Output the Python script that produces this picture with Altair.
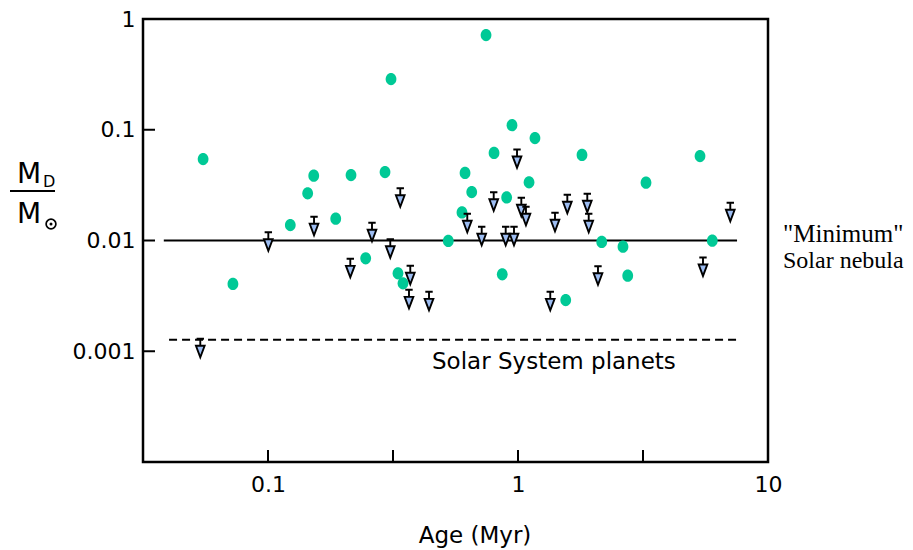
import altair as alt
import pandas as pd

# Disc masses (in solar masses) versus stellar age (Myr)
dot_age = [0.0550, 0.0724, 0.1228, 0.1441, 0.1524, 0.1866, 0.2148, 0.2938, 0.3105, 0.2459,
           0.3311, 0.3467, 0.5263, 0.597, 0.653, 0.614, 0.802, 0.745, 0.865, 0.901,
           0.946, 1.107, 1.169, 1.552, 1.803, 2.162, 2.630, 2.747, 3.251, 5.346, 5.986]
dot_mass = [0.0544, 0.00405, 0.0138, 0.0267, 0.0385, 0.01573, 0.0390, 0.0415, 0.287, 0.00691,
            0.00506, 0.00411, 0.0099, 0.0179, 0.0274, 0.0407, 0.0617, 0.717, 0.00495, 0.0245,
            0.110, 0.0335, 0.0842, 0.0029, 0.0592, 0.0097, 0.00879, 0.00481, 0.0333, 0.0579, 0.00996]

# Upper limits
lim_age = [0.1003, 0.1528, 0.2134, 0.3381, 0.2606, 0.3084, 0.3708, 0.3664, 0.4406, 0.6268,
           0.7158, 0.7995, 0.8929, 0.9638, 1.031, 1.076, 1.406, 1.346, 0.991, 1.575,
           1.893, 1.918, 2.089, 5.495, 7.066, 0.0536]
lim_mass = [0.0098, 0.01352, 0.00564, 0.02444, 0.01193, 0.00847, 0.00488, 0.00296, 0.00284, 0.01439,
            0.01098, 0.02250, 0.01098, 0.01098, 0.02007, 0.01664, 0.01469, 0.00284, 0.0548, 0.02136,
            0.02181, 0.01439, 0.00483, 0.0058, 0.01808, 0.00107]

# Reference levels
nebula_mass = 0.01
nebula_span = [0.0383, 7.52]
planets_mass = 0.00127
planets_span = [0.0402, 7.73]

x_tick_values = [0.1, 0.3162, 1, 3.162]
x_label_values = [0.1, 1, 10]
y_tick_values = [0.1, 0.01, 0.001]
y_label_values = [1, 0.1, 0.01, 0.001]

W, H = 625, 443
FONT = "DejaVu Sans"
GREEN = "#00c996"
ARROW_FILL = "#9dbdf2"

xscale = alt.Scale(type="log", domain=[0.0316228, 10], nice=False)
yscale = alt.Scale(type="log", domain=[1e-4, 1], nice=False)

xaxis = alt.Axis(values=x_label_values, format="~g", tickSize=0, domain=False, grid=False,
                 labelFont=FONT, labelFontSize=22, labelColor="black", labelPadding=12,
                 labelFlush=False, title=None)
yaxis = alt.Axis(values=y_label_values, format="~g", tickSize=0, domain=False, grid=False,
                 labelFont=FONT, labelFontSize=22, labelColor="black", labelPadding=8,
                 labelFlush=False, title=None)


def X(field="age"):
    return alt.X(f"{field}:Q", scale=xscale, axis=xaxis)


def Y(field="mass"):
    return alt.Y(f"{field}:Q", scale=yscale, axis=yaxis)


dots_df = pd.DataFrame({"age": dot_age, "mass": dot_mass})
lims_df = pd.DataFrame({"age": lim_age, "mass": lim_mass})
lines_df = pd.DataFrame({
    "age": [nebula_span[0], planets_span[0]],
    "age_end": [nebula_span[1], planets_span[1]],
    "mass": [nebula_mass, planets_mass],
    "kind": ["solid", "dashed"],
})

solid = alt.Chart(lines_df[lines_df.kind == "solid"]).mark_rule(
    color="black", strokeWidth=2).encode(x=X(), x2="age_end:Q", y=Y())
dashed = alt.Chart(lines_df[lines_df.kind == "dashed"]).mark_rule(
    color="black", strokeWidth=2, strokeDash=[8, 5]).encode(x=X(), x2="age_end:Q", y=Y())

xticks = alt.Chart(pd.DataFrame({"age": x_tick_values})).mark_rule(
    color="black", strokeWidth=2).encode(x=X(), y=alt.value(H), y2=alt.value(H - 12))
yticks = alt.Chart(pd.DataFrame({"mass": y_tick_values})).mark_rule(
    color="black", strokeWidth=2).encode(y=Y(), x=alt.value(0), x2=alt.value(12))

# Slightly tall ellipses for detections
ellipse_path = "M0,-1 A0.88,1 0 1,1 0,1 A0.88,1 0 1,1 0,-1 Z"
dots = alt.Chart(dots_df).mark_point(
    shape=ellipse_path, filled=True, size=150, color=GREEN, opacity=1).encode(x=X(), y=Y())

# Upper-limit glyph: bar, stem and downward arrowhead
arrow_path = ("M-0.4,-1 L0.4,-1 M0,-1 L0,-0.24 "
              "M-0.47,-0.24 L0.47,-0.24 L0,1 Z")
arrows = alt.Chart(lims_df).mark_point(
    shape=arrow_path, size=342, filled=True, fill=ARROW_FILL, stroke="black",
    strokeWidth=1.9, strokeJoin="miter", opacity=1, fillOpacity=1).encode(x=X(), y=Y())

planets_label = alt.Chart(pd.DataFrame({"age": [0.453], "mass": [0.000692], "t": ["Solar System planets"]})).mark_text(
    font=FONT, fontSize=23, align="left", baseline="alphabetic", color="black").encode(
    x=X(), y=Y(), text="t:N")


def label(text, x, y, size, font=FONT, align="left", baseline="alphabetic"):
    return alt.Chart(pd.DataFrame({"t": [text]})).mark_text(
        font=font, fontSize=size, align=align, baseline=baseline, color="black").encode(
        x=alt.value(x), y=alt.value(y), text="t:N")


nebula_1 = label('"Minimum"', 640, 223, 25, font="Liberation Serif")
nebula_2 = label("Solar nebula", 640, 249, 24, font="Liberation Serif")
x_title = label("Age (Myr)", 332, 524, 23, align="center")

# Y title drawn as a fraction M_D / M_sun
m_top = label("M", -126, 164, 28)
m_sub = label("D", -100, 168, 16)
m_bot = label("M", -126, 204, 28)
frac_line = alt.Chart(pd.DataFrame({"k": [0]})).mark_rule(color="black", strokeWidth=2).encode(
    x=alt.value(-133), x2=alt.value(-88), y=alt.value(172))
sun_ring = alt.Chart(pd.DataFrame({"k": [0]})).mark_point(
    shape="circle", size=95, filled=False, color="black", strokeWidth=1.7, opacity=1).encode(
    x=alt.value(-92), y=alt.value(205))
sun_dot = alt.Chart(pd.DataFrame({"k": [0]})).mark_point(
    shape="circle", size=9, filled=True, color="black", opacity=1).encode(
    x=alt.value(-92), y=alt.value(205))

chart = alt.layer(
    solid, dashed, xticks, yticks, dots, arrows, planets_label,
    nebula_1, nebula_2, x_title, m_top, m_sub, m_bot, frac_line, sun_ring, sun_dot,
).properties(
    width=W, height=H,
    autosize="none",
    padding={"left": 143, "top": 19, "right": 145, "bottom": 88},
    background="white",
).configure_view(
    stroke="black", strokeWidth=2.5, clip=False,
)

chart.save("out.html", embed_options={"renderer": "svg", "actions": False})
